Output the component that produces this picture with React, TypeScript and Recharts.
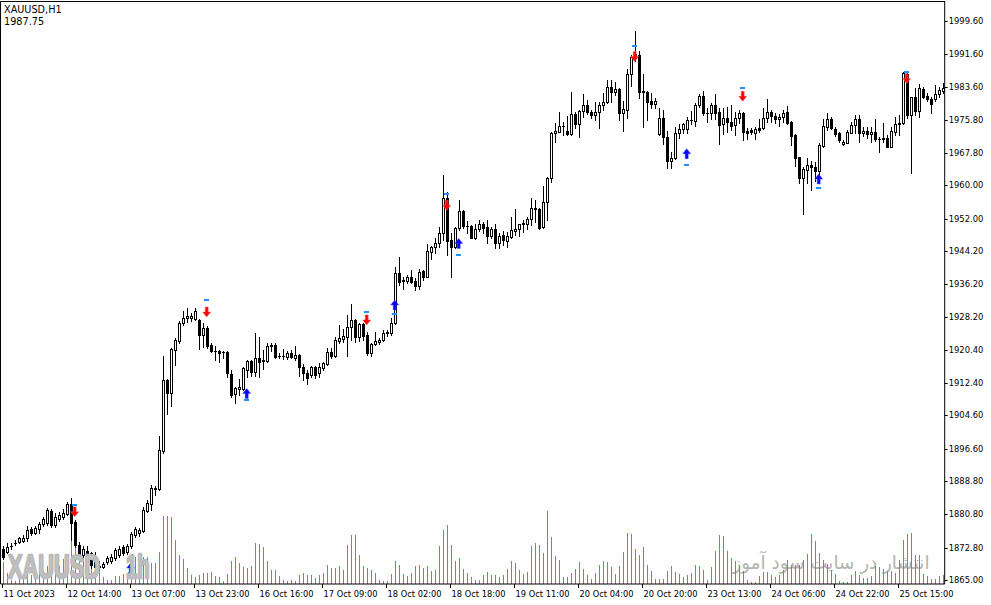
import React from 'react';
import { ComposedChart, Bar, Line, XAxis, YAxis } from 'recharts';

// x axis labels, one every 16 bars
const dateLabels = [
  '11 Oct 2023', '12 Oct 14:00', '13 Oct 07:00', '13 Oct 23:00', '16 Oct 16:00',
  '17 Oct 09:00', '18 Oct 02:00', '18 Oct 18:00', '19 Oct 11:00', '20 Oct 04:00',
  '20 Oct 20:00', '23 Oct 13:00', '24 Oct 06:00', '24 Oct 22:00', '25 Oct 15:00',
];

const priceTicks = [
  1865.0, 1872.8, 1880.8, 1888.8, 1896.6, 1904.6, 1912.4, 1920.4, 1928.2,
  1936.2, 1944.2, 1952.0, 1960.0, 1967.8, 1975.8, 1983.6, 1991.6, 1999.6,
];

const opens = [
  1872.5, 1871.7, 1873.1, 1873.9, 1874.2, 1874.4, 1875.1, 1877.3, 1876.3, 1877.3,
  1878.5, 1878.7, 1881.6, 1878.2, 1879.7, 1880.2, 1880.9, 1883.3, 1879.0, 1873.4,
  1871.0, 1872.0, 1871.5, 1870.3, 1868.4, 1868.1, 1869.3, 1869.6, 1870.3, 1871.0,
  1872.9, 1871.7, 1873.2, 1875.8, 1876.3, 1876.8, 1881.6, 1883.3, 1887.0, 1886.9,
  1896.1, 1913.1, 1910.0, 1920.4, 1922.5, 1926.9, 1928.1, 1928.0, 1927.8, 1927.6,
  1924.0, 1925.6, 1921.6, 1920.2, 1920.1, 1919.9, 1919.9, 1914.6, 1909.8, 1911.0,
  1911.0, 1915.5, 1917.7, 1915.1, 1918.4, 1917.8, 1917.7, 1921.2, 1921.6, 1919.0,
  1918.8, 1918.7, 1919.6, 1918.4, 1919.2, 1916.3, 1914.8, 1914.3, 1916.3, 1914.8,
  1916.1, 1917.0, 1919.9, 1918.8, 1922.6, 1923.0, 1923.6, 1925.8, 1927.6, 1923.6,
  1926.6, 1924.0, 1919.6, 1921.7, 1922.4, 1922.8, 1924.4, 1924.4, 1926.8, 1938.8,
  1937.1, 1937.0, 1938.0, 1937.0, 1935.8, 1939.4, 1938.0, 1944.0, 1945.1, 1946.0,
  1948.6, 1956.9, 1946.8, 1945.1, 1949.7, 1953.8, 1950.3, 1950.2, 1947.2, 1949.5,
  1950.6, 1950.0, 1947.9, 1949.5, 1946.0, 1948.0, 1946.6, 1947.6, 1949.0, 1949.5,
  1950.6, 1950.8, 1951.9, 1954.6, 1954.3, 1950.0, 1955.9, 1961.7, 1972.5, 1972.9,
  1974.3, 1973.1, 1972.3, 1977.1, 1974.7, 1977.9, 1979.3, 1977.6, 1976.9, 1977.6,
  1979.3, 1980.0, 1983.7, 1982.4, 1983.2, 1977.3, 1978.1, 1986.9, 1990.7, 1991.4,
  1982.7, 1982.5, 1980.3, 1979.5, 1972.3, 1976.1, 1971.5, 1965.8, 1966.5, 1972.5,
  1973.5, 1973.5, 1975.6, 1975.5, 1979.3, 1981.5, 1977.5, 1977.3, 1979.3, 1977.6,
  1974.7, 1976.1, 1975.2, 1974.5, 1976.1, 1977.3, 1973.1, 1973.3, 1972.7, 1973.9,
  1973.7, 1976.3, 1977.6, 1976.7, 1975.9, 1976.4, 1977.7, 1975.3, 1972.1, 1966.7,
  1961.7, 1963.7, 1964.9, 1964.3, 1963.5, 1969.5, 1974.1, 1975.9, 1973.5, 1972.5,
  1969.9, 1970.2, 1972.7, 1974.5, 1975.9, 1972.5, 1973.1, 1972.3, 1972.9, 1971.1,
  1971.3, 1971.3, 1969.3, 1972.9, 1974.7, 1974.9, 1986.9, 1976.9, 1981.2, 1977.9,
  1983.1, 1981.5, 1980.7, 1980.7, 1982.0, 1982.8,
];

const highs = [
  1873.2, 1873.9, 1873.9, 1874.6, 1875.4, 1875.8, 1878.0, 1877.8, 1878.0, 1879.0,
  1880.2, 1882.3, 1882.1, 1881.1, 1881.4, 1882.1, 1883.8, 1884.7, 1879.4, 1874.1,
  1873.2, 1873.2, 1871.7, 1871.7, 1869.6, 1869.3, 1870.8, 1871.3, 1872.7, 1873.2,
  1873.4, 1873.7, 1876.6, 1877.8, 1877.5, 1882.6, 1884.3, 1887.9, 1887.6, 1899.7,
  1918.9, 1913.4, 1920.8, 1923.2, 1927.3, 1929.7, 1930.5, 1929.3, 1930.5, 1927.8,
  1926.9, 1926.1, 1922.0, 1921.3, 1920.4, 1920.2, 1920.1, 1915.5, 1911.5, 1913.4,
  1916.3, 1918.0, 1918.0, 1924.4, 1923.5, 1920.4, 1922.0, 1922.0, 1922.0, 1919.7,
  1920.6, 1920.1, 1920.4, 1921.3, 1919.4, 1917.0, 1915.5, 1916.5, 1916.5, 1917.2,
  1917.5, 1920.8, 1920.8, 1923.5, 1926.4, 1925.4, 1928.8, 1931.4, 1927.8, 1926.8,
  1926.9, 1924.8, 1922.0, 1924.8, 1923.2, 1925.2, 1925.2, 1928.0, 1940.3, 1942.7,
  1938.0, 1938.4, 1939.6, 1937.8, 1939.8, 1939.6, 1945.9, 1945.4, 1947.2, 1949.9,
  1962.5, 1958.5, 1948.4, 1950.0, 1956.5, 1954.1, 1951.4, 1950.4, 1950.8, 1951.6,
  1951.2, 1951.6, 1950.0, 1950.7, 1948.4, 1949.0, 1948.8, 1952.4, 1954.3, 1950.8,
  1951.6, 1952.4, 1956.9, 1956.5, 1954.5, 1959.9, 1962.1, 1972.9, 1974.9, 1977.6,
  1975.3, 1976.7, 1982.5, 1977.6, 1978.1, 1981.9, 1980.5, 1978.1, 1980.0, 1980.0,
  1982.1, 1985.3, 1985.3, 1984.9, 1983.5, 1980.3, 1988.0, 1991.4, 1997.1, 1992.3,
  1986.7, 1982.7, 1982.1, 1981.1, 1978.5, 1978.1, 1973.1, 1968.1, 1974.1, 1974.7,
  1975.0, 1976.5, 1977.9, 1979.7, 1981.9, 1982.7, 1978.5, 1979.7, 1981.9, 1978.5,
  1978.7, 1978.9, 1979.3, 1977.6, 1978.1, 1977.6, 1973.7, 1973.8, 1974.1, 1975.9,
  1978.5, 1980.8, 1978.1, 1977.3, 1977.1, 1978.1, 1979.1, 1975.5, 1972.3, 1966.9,
  1964.5, 1966.5, 1965.9, 1965.7, 1970.2, 1975.9, 1977.5, 1976.4, 1974.1, 1972.9,
  1970.9, 1973.3, 1975.3, 1976.9, 1976.9, 1974.1, 1974.1, 1974.1, 1975.9, 1971.7,
  1974.9, 1972.1, 1974.1, 1976.5, 1976.9, 1987.3, 1987.1, 1981.3, 1983.3, 1984.4,
  1983.7, 1982.1, 1981.3, 1984.1, 1983.6, 1984.5,
];

const lows = [
  1870.1, 1871.5, 1872.5, 1873.4, 1874.0, 1874.2, 1874.5, 1875.8, 1876.1, 1876.3,
  1878.0, 1878.2, 1877.8, 1877.8, 1879.2, 1879.7, 1880.6, 1874.6, 1872.9, 1870.3,
  1870.5, 1870.3, 1867.9, 1867.4, 1867.4, 1867.9, 1868.9, 1869.1, 1869.8, 1870.5,
  1871.0, 1871.3, 1872.7, 1875.3, 1875.6, 1876.6, 1881.4, 1881.8, 1885.4, 1886.7,
  1895.6, 1904.9, 1906.9, 1916.7, 1922.0, 1926.4, 1927.1, 1927.3, 1927.6, 1920.6,
  1921.1, 1920.8, 1919.9, 1918.0, 1917.5, 1918.4, 1913.9, 1909.0, 1907.6, 1909.5,
  1910.7, 1913.9, 1914.1, 1914.1, 1913.9, 1915.8, 1917.5, 1920.1, 1918.4, 1918.4,
  1918.2, 1918.2, 1918.4, 1918.0, 1914.1, 1913.1, 1912.2, 1913.9, 1913.6, 1913.9,
  1915.5, 1916.7, 1918.4, 1918.6, 1922.1, 1922.4, 1918.8, 1922.8, 1922.4, 1922.6,
  1922.8, 1919.2, 1918.9, 1921.6, 1921.8, 1922.6, 1923.7, 1924.0, 1926.6, 1936.0,
  1935.0, 1936.4, 1936.4, 1934.8, 1935.0, 1937.2, 1937.9, 1942.2, 1943.6, 1945.1,
  1946.8, 1943.2, 1938.0, 1944.8, 1949.2, 1949.7, 1948.4, 1947.2, 1947.1, 1949.0,
  1948.4, 1946.0, 1947.2, 1945.0, 1945.0, 1945.6, 1945.2, 1947.2, 1948.0, 1947.9,
  1948.7, 1949.5, 1950.4, 1951.2, 1949.5, 1949.8, 1951.7, 1960.7, 1970.5, 1972.8,
  1972.1, 1972.1, 1972.1, 1973.7, 1971.7, 1976.5, 1977.1, 1976.3, 1975.7, 1973.9,
  1978.1, 1979.7, 1980.1, 1981.7, 1975.7, 1973.1, 1976.3, 1984.0, 1989.9, 1981.1,
  1974.1, 1975.7, 1978.7, 1978.7, 1972.1, 1969.9, 1964.2, 1964.2, 1966.3, 1971.4,
  1972.5, 1972.5, 1974.7, 1974.3, 1978.9, 1976.9, 1975.2, 1975.9, 1975.9, 1969.9,
  1972.3, 1972.9, 1973.3, 1972.1, 1974.9, 1970.9, 1971.1, 1972.3, 1971.1, 1972.9,
  1973.5, 1975.3, 1975.2, 1974.9, 1974.3, 1975.3, 1974.7, 1969.7, 1964.6, 1960.6,
  1953.1, 1960.5, 1958.9, 1961.1, 1960.5, 1969.3, 1973.3, 1973.5, 1971.9, 1970.5,
  1969.7, 1970.1, 1972.5, 1972.7, 1970.5, 1971.9, 1971.3, 1970.5, 1970.7, 1968.1,
  1970.5, 1969.1, 1969.1, 1972.1, 1972.1, 1974.8, 1976.1, 1962.9, 1976.9, 1976.5,
  1980.9, 1980.4, 1977.5, 1980.4, 1981.3, 1982.1,
];

const closes = [
  1870.5, 1872.9, 1873.2, 1874.0, 1875.1, 1875.1, 1877.0, 1876.3, 1877.5, 1878.5,
  1879.7, 1881.9, 1878.2, 1880.2, 1880.6, 1881.1, 1883.3, 1878.7, 1873.4, 1871.0,
  1872.5, 1870.5, 1868.6, 1868.1, 1868.1, 1868.9, 1870.3, 1870.5, 1872.2, 1872.5,
  1871.5, 1873.2, 1876.1, 1877.3, 1877.0, 1881.8, 1883.5, 1887.1, 1887.1, 1896.3,
  1913.1, 1910.0, 1920.6, 1922.8, 1926.9, 1928.1, 1928.5, 1928.5, 1929.7, 1924.0,
  1925.6, 1921.3, 1920.1, 1920.1, 1919.7, 1919.8, 1914.8, 1909.5, 1911.2, 1911.4,
  1916.0, 1917.7, 1915.1, 1918.4, 1917.5, 1918.0, 1921.3, 1921.6, 1918.7, 1918.9,
  1918.9, 1919.6, 1918.7, 1919.2, 1916.3, 1914.8, 1913.6, 1916.3, 1914.3, 1916.3,
  1917.2, 1919.9, 1918.9, 1922.8, 1923.2, 1923.7, 1925.8, 1927.6, 1923.6, 1926.6,
  1923.7, 1919.6, 1921.8, 1922.5, 1922.8, 1924.5, 1924.8, 1926.9, 1938.8, 1936.8,
  1937.0, 1937.9, 1936.8, 1935.8, 1939.2, 1938.0, 1944.2, 1945.1, 1946.0, 1948.6,
  1956.9, 1946.7, 1945.1, 1949.7, 1953.9, 1950.3, 1950.2, 1947.4, 1949.5, 1950.6,
  1949.7, 1947.9, 1949.5, 1946.0, 1947.9, 1946.8, 1947.9, 1949.2, 1949.5, 1950.6,
  1951.0, 1951.9, 1954.6, 1954.3, 1949.8, 1955.9, 1961.7, 1972.5, 1973.1, 1974.3,
  1974.2, 1972.3, 1977.1, 1974.7, 1977.9, 1979.3, 1977.6, 1976.9, 1977.6, 1979.3,
  1980.0, 1983.7, 1982.5, 1983.2, 1977.3, 1978.4, 1986.9, 1990.9, 1991.5, 1982.5,
  1982.4, 1980.1, 1979.5, 1980.3, 1976.1, 1971.5, 1965.8, 1966.5, 1972.5, 1973.5,
  1974.7, 1975.6, 1975.7, 1979.3, 1981.5, 1977.3, 1977.4, 1979.3, 1977.3, 1974.5,
  1976.1, 1975.2, 1974.3, 1976.1, 1977.3, 1972.9, 1972.5, 1972.8, 1973.5, 1973.3,
  1976.3, 1977.6, 1976.7, 1975.9, 1976.5, 1977.3, 1975.1, 1971.9, 1966.5, 1961.7,
  1963.9, 1964.9, 1964.3, 1963.5, 1969.7, 1974.3, 1975.9, 1973.7, 1972.3, 1970.9,
  1970.5, 1972.9, 1974.5, 1975.9, 1972.5, 1973.1, 1972.3, 1972.9, 1971.1, 1971.2,
  1971.2, 1969.3, 1973.1, 1974.7, 1975.1, 1987.1, 1976.9, 1981.2, 1977.9, 1983.3,
  1981.3, 1980.7, 1979.5, 1982.0, 1982.9, 1983.3,
];

const volumes = [
  217, 110, 43, 27, 83, 83, 150, 93, 83, 143,
  143, 183, 243, 227, 177, 250, 143, 443, 360, 343,
  270, 243, 303, 260, 143, 70, 43, 43, 77, 83,
  103, 110, 143, 270, 260, 270, 270, 210, 210, 320,
  677, 677, 667, 443, 287, 253, 160, 93, 67, 87,
  113, 113, 120, 80, 67, 33, 103, 227, 267, 207,
  167, 160, 177, 410, 400, 373, 227, 143, 143, 80,
  40, 33, 40, 33, 93, 113, 87, 87, 60, 87,
  110, 193, 160, 160, 180, 143, 393, 487, 487, 293,
  177, 160, 140, 110, 43, 27, 27, 100, 227, 193,
  100, 77, 110, 177, 193, 160, 177, 127, 143, 377,
  543, 587, 387, 233, 260, 153, 110, 70, 43, 37,
  93, 120, 87, 87, 67, 93, 153, 233, 210, 143,
  100, 120, 377, 410, 387, 307, 727, 473, 283, 243,
  67, 67, 110, 153, 217, 153, 93, 53, 113, 193,
  233, 220, 167, 103, 177, 323, 513, 503, 353, 293,
  367, 193, 127, 47, 53, 53, 133, 180, 120, 100,
  67, 93, 110, 193, 180, 143, 43, 167, 327, 493,
  483, 327, 260, 227, 177, 133, 43, 20, 20, 77,
  120, 120, 87, 67, 93, 143, 243, 193, 193, 193,
  243, 303, 500, 433, 310, 243, 200, 143, 100, 33,
  20, 20, 93, 133, 93, 60, 60, 77, 177, 167,
  153, 127, 127, 110, 243, 443, 500, 510, 293, 287,
  100, 77, 53, 53, 77, 93,
];

// [bar index, arrow price, mark price]
const downArrows = [
  [18, 1881.4, 1883.0], [51, 1929.5, 1932.4], [91, 1927.6, 1929.5], [111, 1955.2, 1957.9],
  [158, 1991.0, 1993.4], [185, 1981.4, 1983.5], [226, 1985.7, 1987.3],
];
const upArrows = [
  [32, 1867.9, 1866.7], [61, 1909.9, 1908.3], [98, 1931.2, 1929.0],
  [114, 1946.0, 1943.2], [171, 1967.6, 1964.9], [204, 1961.5, 1959.4],
];

const n = Math.min(opens.length, highs.length, lows.length, closes.length, volumes.length);
const rows: any[] = [];
for (let i = 0; i < n; i++) {
  rows.push({
    i, o: opens[i], h: highs[i], l: lows[i], c: closes[i],
    range: [lows[i], highs[i]], vol: volumes[i],
    dn: null, dnMark: null, up: null, upMark: null,
  });
}
downArrows.forEach(([i, p, m]) => { if (rows[i]) { rows[i].dn = p; rows[i].dnMark = m; } });
upArrows.forEach(([i, p, m]) => { if (rows[i]) { rows[i].up = p; rows[i].upMark = m; } });

const FONT = '"DejaVu Sans", Verdana, sans-serif';

const Candle = (props: any) => {
  const { x, y, width, height, payload } = props;
  if (x == null || y == null || !payload) return <g />;
  const top = Math.min(y, y + height);
  const span = Math.abs(height);
  const { o, h, l, c } = payload;
  const py = (v: number) => (h === l ? top : top + ((h - v) / (h - l)) * span);
  const cx = Math.round(x + width / 2) + 0.5;
  const bt = Math.round(Math.min(py(o), py(c))) + 0.5;
  const bb = Math.round(Math.max(py(o), py(c))) + 0.5;
  return (
    <g>
      <line x1={cx} x2={cx} y1={Math.round(top)} y2={Math.round(top + span) + 1} stroke="#000" strokeWidth={1} />
      {bb - bt < 1 ? (
        <line x1={cx - 1.5} x2={cx + 1.5} y1={bt} y2={bt} stroke="#000" strokeWidth={1} />
      ) : (
        <rect x={cx - 1} y={bt} width={2} height={bb - bt} fill={c >= o ? '#fff' : '#000'} stroke="#000" strokeWidth={1} />
      )}
    </g>
  );
};

const VolBar = (props: any) => {
  const { x, y, width, height } = props;
  if (x == null || y == null || !height) return <g />;
  const top = Math.round(Math.min(y, y + height));
  return <rect x={Math.round(x + width / 2)} y={top} width={1} height={584 - top} fill="#3cb43c" />;
};

const downDot = (p: any) => {
  const { cx, cy, key } = p;
  if (cx == null || cy == null || p.payload?.dn == null) return <g key={key} />;
  const d = `M${cx - 1.5},${cy - 5} H${cx + 1.5} V${cy} H${cx + 4} L${cx},${cy + 5} L${cx - 4},${cy} H${cx - 1.5} Z`;
  return <path key={key} d={d} fill="#ff0000" stroke="#ff6060" strokeWidth={0.5} />;
};

const upDot = (p: any) => {
  const { cx, cy, key } = p;
  if (cx == null || cy == null || p.payload?.up == null) return <g key={key} />;
  const d = `M${cx - 1.5},${cy + 5} H${cx + 1.5} V${cy} H${cx + 4} L${cx},${cy - 5} L${cx - 4},${cy} H${cx - 1.5} Z`;
  return <path key={key} d={d} fill="#0000ff" stroke="#5050ff" strokeWidth={0.5} />;
};

const markDot = (field: string) => (p: any) => {
  const { cx, cy, key } = p;
  if (cx == null || cy == null || p.payload?.[field] == null) return <g key={key} />;
  return <rect key={key} x={Math.round(cx) - 3} y={Math.round(cy) - 1} width={5} height={2} fill="#1e90ff" />;
};

const XTick = (props: any) => {
  const { x, y, payload } = props;
  const label = dateLabels[payload.value / 16];
  if (!label) return <g />;
  const lx = Math.floor(x) + 0.5;
  return (
    <g>
      <line x1={lx} x2={lx} y1={y} y2={y + 4} stroke="#000" />
      <text x={lx + 1} y={y + 12.5} fontSize={8.3} fontFamily={FONT} fill="#000">{label}</text>
    </g>
  );
};

const YTick = (props: any) => {
  const { x, y, payload } = props;
  const ly = Math.round(y) + 0.5;
  return (
    <g>
      <line x1={x} x2={x + 3} y1={ly} y2={ly} stroke="#000" />
      <text x={x + 4} y={y} dy="0.36em" fontSize={8.4} fontFamily={FONT} fill="#000">
        {Number(payload.value).toFixed(2)}
      </text>
    </g>
  );
};

const WM_FONT = '"Liberation Sans", Arial, sans-serif';

export default function App() {
  return (
    <div style={{ position: 'absolute', left: 0, top: 0, width: 991, height: 605, background: '#fff', overflow: 'hidden', fontFamily: FONT }}>
      <svg width={991} height={605} style={{ position: 'absolute', left: 0, top: 0 }}>
        <text x={831} y={569} fontSize={19} fontFamily={FONT} fill="#b4b4b4" textAnchor="middle" direction="rtl"
          textLength={197} lengthAdjust="spacingAndGlyphs">
          انتشار در سایت سود آموز
        </text>
      </svg>
      <div style={{ position: 'absolute', left: 0, top: 0 }}>
        <ComposedChart width={991} height={605} data={rows} margin={{ top: 1, right: 0, bottom: 0, left: 0.7 }}>
          <XAxis dataKey="i" type="category" interval={15} height={21} tickSize={0} tickMargin={0} tickLine={false}
            axisLine={{ stroke: '#000' }} tick={(p: any) => <XTick {...p} />} />
          <XAxis xAxisId="vx" dataKey="i" type="category" hide />
          <YAxis orientation="right" type="number" domain={[1864.04, 2004.35]} allowDataOverflow ticks={priceTicks}
            interval={0} width={46.3} tickSize={0} tickMargin={0} tickLine={false} axisLine={{ stroke: '#000' }}
            tick={(p: any) => <YTick {...p} />} />
          <YAxis yAxisId="vol" type="number" domain={[0, 5830]} allowDataOverflow hide />
          <Bar xAxisId="vx" yAxisId="vol" dataKey="vol" barSize={1} isAnimationActive={false} shape={(p: any) => <VolBar {...p} />} />
          <Line dataKey="dn" stroke="none" dot={downDot} activeDot={false} isAnimationActive={false} />
          <Line dataKey="dnMark" stroke="none" dot={markDot('dnMark')} activeDot={false} isAnimationActive={false} />
          <Line dataKey="up" stroke="none" dot={upDot} activeDot={false} isAnimationActive={false} />
          <Line dataKey="upMark" stroke="none" dot={markDot('upMark')} activeDot={false} isAnimationActive={false} />
          <Bar dataKey="range" barSize={3} isAnimationActive={false} shape={(p: any) => <Candle {...p} />} />
        </ComposedChart>
      </div>
      <svg width={991} height={605} style={{ position: 'absolute', left: 0, top: 0, pointerEvents: 'none' }}>
        <line x1={0.5} x2={0.5} y1={1} y2={584} stroke="#000" />
        <line x1={0} x2={945} y1={1.5} y2={1.5} stroke="#000" />
        <text x={4} y={13} fontSize={9.7} fontFamily={FONT} fill="#000">XAUUSD,H1</text>
        <text x={4} y={25} fontSize={9.7} fontFamily={FONT} fill="#000">1987.75</text>
        <g transform="translate(8,578) scale(0.64,1)">
          <text x={0} y={0} fontSize={34} fontWeight="bold" fontFamily={WM_FONT} fill="#c4c4c4" stroke="#bababa"
            strokeWidth={2.6} strokeLinejoin="round">XAUUSD</text>
        </g>
        <g transform="translate(126,578) scale(0.6,1)">
          <text x={0} y={0} fontSize={34} fontWeight="bold" fontFamily={WM_FONT} fill="#c4c4c4" stroke="#bababa"
            strokeWidth={2.6} strokeLinejoin="round">1h</text>
        </g>
      </svg>
    </div>
  );
}
